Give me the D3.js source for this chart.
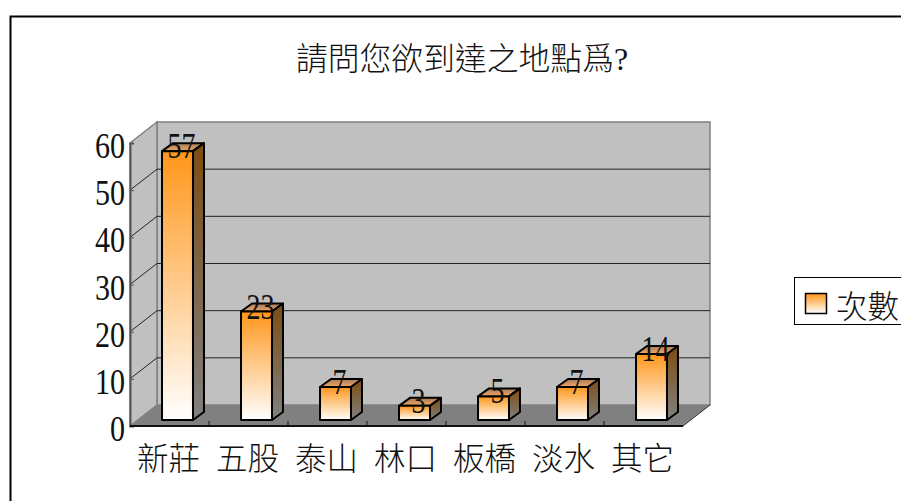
<!DOCTYPE html>
<html>
<head>
<meta charset="utf-8">
<script src="https://cdn.jsdelivr.net/npm/d3@7"></script>
<style>
  html, body { margin: 0; padding: 0; background: #fff; overflow: hidden; }
  text { font-family: "Liberation Serif", "Noto Sans CJK TC", serif; fill: #111; }
  .cjk { font-family: "Liberation Serif", "Noto Sans CJK TC", serif; font-weight: 300; }
</style>
</head>
<body>
<div id="chart-container"></div>
<script>
const title = "請問您欲到達之地點爲?";
const categories = ["新莊", "五股", "泰山", "林口", "板橋", "淡水", "其它"];
const counts = [57, 23, 7, 3, 5, 7, 14];
const yTicks = [0, 10, 20, 30, 40, 50, 60];
const seriesName = "次數";

const width = 901, height = 501;
const margin = { top: 143, right: 218, bottom: 75, left: 130 };
// oblique offset of the back wall, and of the bars inside the floor
const wall = { dx: 27, dy: -21 };
const barPos = { dx: 8, dy: -6 };
const barDepth = { dx: 11, dy: -8 };

const svg = d3
  .select("#chart-container")
  .append("svg")
  .attr("width", width)
  .attr("height", height)
  .style("display", "block");

const defs = svg.append("defs");
function gradient(id, top, bottom) {
  const g = defs.append("linearGradient").attr("id", id)
    .attr("x1", 0).attr("y1", 0).attr("x2", 0).attr("y2", 1);
  g.append("stop").attr("offset", 0).attr("stop-color", top);
  g.append("stop").attr("offset", 1).attr("stop-color", bottom);
}
gradient("front", "#ff961a", "#ffffff");
gradient("side", "#7d4d12", "#808080");
gradient("lid", "#a87a55", "#f0a868");

const x = d3
  .scaleBand()
  .domain(categories)
  .range([margin.left, width - margin.right])
  .paddingInner(0.608)
  .paddingOuter(0.304);

const y = d3
  .scaleLinear()
  .domain([0, 60])
  .range([height - margin.bottom, margin.top]);

const x0 = x.range()[0], x1 = x.range()[1];
const pts = (a) => a.map((p) => p.join(",")).join(" ");

// outer frame, only top and left fall inside the picture
svg.append("path")
  .attr("d", `M10.5,${height}V16.5H${width}`)
  .attr("fill", "none")
  .attr("stroke", "#000")
  .attr("stroke-width", 2);

// back wall, side wall, floor
svg.append("rect")
  .attr("x", x0 + wall.dx)
  .attr("y", y(60) + wall.dy)
  .attr("width", x1 - x0)
  .attr("height", y(0) - y(60))
  .attr("fill", "#c0c0c0")
  .attr("stroke", "#808080")
  .attr("stroke-width", 1.5);

svg.append("polygon")
  .attr("points", pts([
    [x0, y(60)], [x0 + wall.dx, y(60) + wall.dy],
    [x0 + wall.dx, y(0) + wall.dy], [x0, y(0)],
  ]))
  .attr("fill", "#c0c0c0")
  .attr("stroke", "#808080")
  .attr("stroke-width", 1.5);

svg.append("polygon")
  .attr("points", pts([
    [x0, y(0)], [x0 + wall.dx, y(0) + wall.dy],
    [x1 + wall.dx, y(0) + wall.dy], [x1, y(0)],
  ]))
  .attr("fill", "#808080");

// edge from the floor's front corner up to the back wall
svg.append("line")
  .attr("x1", x1).attr("y1", y(0))
  .attr("x2", x1 + wall.dx).attr("y2", y(0) + wall.dy)
  .attr("stroke", "#333");

// gridlines, round the corner from side wall to back wall
svg.append("g")
  .selectAll("path")
  .data(yTicks.filter((d) => d > 0 && d < 60))
  .join("path")
  .attr("d", (d) =>
    `M${x0},${y(d)}L${x0 + wall.dx},${y(d) + wall.dy}H${x1 + wall.dx}`)
  .attr("fill", "none")
  .attr("stroke", "#222")
  .attr("stroke-width", 1);

// axes
const yAxis = svg.append("g")
  .attr("transform", `translate(${x0},0)`)
  .call(d3.axisLeft(y).tickValues(yTicks).tickSize(-4).tickPadding(9).tickFormat(d3.format("d")));
yAxis.select(".domain").attr("stroke", "#555").attr("stroke-width", 2);
yAxis.selectAll(".tick line").attr("stroke", "#555");
yAxis.selectAll(".tick text")
  .attr("x", 0)
  .attr("y", 0)
  .attr("dy", 0)
  .attr("text-anchor", "end")
  .attr("font-size", 35)
  .attr("transform", "translate(-5,14.5) scale(0.86,1)");

svg.append("line")
  .attr("x1", x0).attr("x2", x1)
  .attr("y1", y(0)).attr("y2", y(0))
  .attr("stroke", "#111").attr("stroke-width", 2);

svg.append("g")
  .selectAll("line")
  .data(categories.slice(1))
  .join("line")
  .attr("x1", (d) => x(d) - x.step() * 0.304)
  .attr("x2", (d) => x(d) - x.step() * 0.304)
  .attr("y1", y(0))
  .attr("y2", y(0) - 5)
  .attr("stroke", "#111");

svg.append("g")
  .selectAll("text")
  .data(categories)
  .join("text")
  .attr("class", "cjk")
  .attr("x", (d) => x(d) + x.bandwidth() / 2 - 1)
  .attr("y", 470)
  .attr("text-anchor", "middle")
  .attr("font-size", 31.5)
  .text((d) => d);

// bars
const bars = svg.append("g")
  .selectAll("g")
  .data(categories.map((c, i) => ({ c, v: counts[i] })))
  .join("g")
  .attr("transform", `translate(${barPos.dx},${barPos.dy})`)
  .attr("stroke", "#000")
  .attr("stroke-width", 2)
  .attr("stroke-linejoin", "round");

bars.append("polygon")
  .attr("points", (d) => pts([
    [x(d.c), y(d.v)],
    [x(d.c) + barDepth.dx, y(d.v) + barDepth.dy],
    [x(d.c) + x.bandwidth() + barDepth.dx, y(d.v) + barDepth.dy],
    [x(d.c) + x.bandwidth(), y(d.v)],
  ]))
  .attr("fill", "url(#lid)");

bars.append("polygon")
  .attr("points", (d) => pts([
    [x(d.c) + x.bandwidth(), y(d.v)],
    [x(d.c) + x.bandwidth() + barDepth.dx, y(d.v) + barDepth.dy],
    [x(d.c) + x.bandwidth() + barDepth.dx, y(0) + barDepth.dy],
    [x(d.c) + x.bandwidth(), y(0)],
  ]))
  .attr("fill", "url(#side)");

bars.append("rect")
  .attr("x", (d) => x(d.c))
  .attr("y", (d) => y(d.v))
  .attr("width", x.bandwidth())
  .attr("height", (d) => y(0) - y(d.v))
  .attr("fill", "url(#front)");

// data labels
svg.append("g")
  .selectAll("text")
  .data(counts)
  .join("text")
  .attr("text-anchor", "middle")
  .attr("font-size", 35)
  .attr("transform", (d, i) =>
    `translate(${x(categories[i]) + x.bandwidth() / 2 + barPos.dx + 4},${y(d) + 1}) scale(0.8,1)`)
  .text((d) => d);

// title
svg.append("text")
  .attr("class", "cjk")
  .attr("x", 462)
  .attr("y", 70)
  .attr("text-anchor", "middle")
  .attr("font-size", 31.8)
  .text(title);

// legend
svg.append("rect")
  .attr("x", 794.5).attr("y", 277.5)
  .attr("width", 120).attr("height", 47)
  .attr("fill", "#fff")
  .attr("stroke", "#000");
svg.append("rect")
  .attr("x", 805.5).attr("y", 293.5)
  .attr("width", 21).attr("height", 20)
  .attr("fill", "url(#front)")
  .attr("stroke", "#000")
  .attr("stroke-width", 1.5);
svg.append("text")
  .attr("class", "cjk")
  .attr("x", 836)
  .attr("y", 318)
  .attr("font-size", 31.5)
  .text(seriesName);
</script>
</body>
</html>
